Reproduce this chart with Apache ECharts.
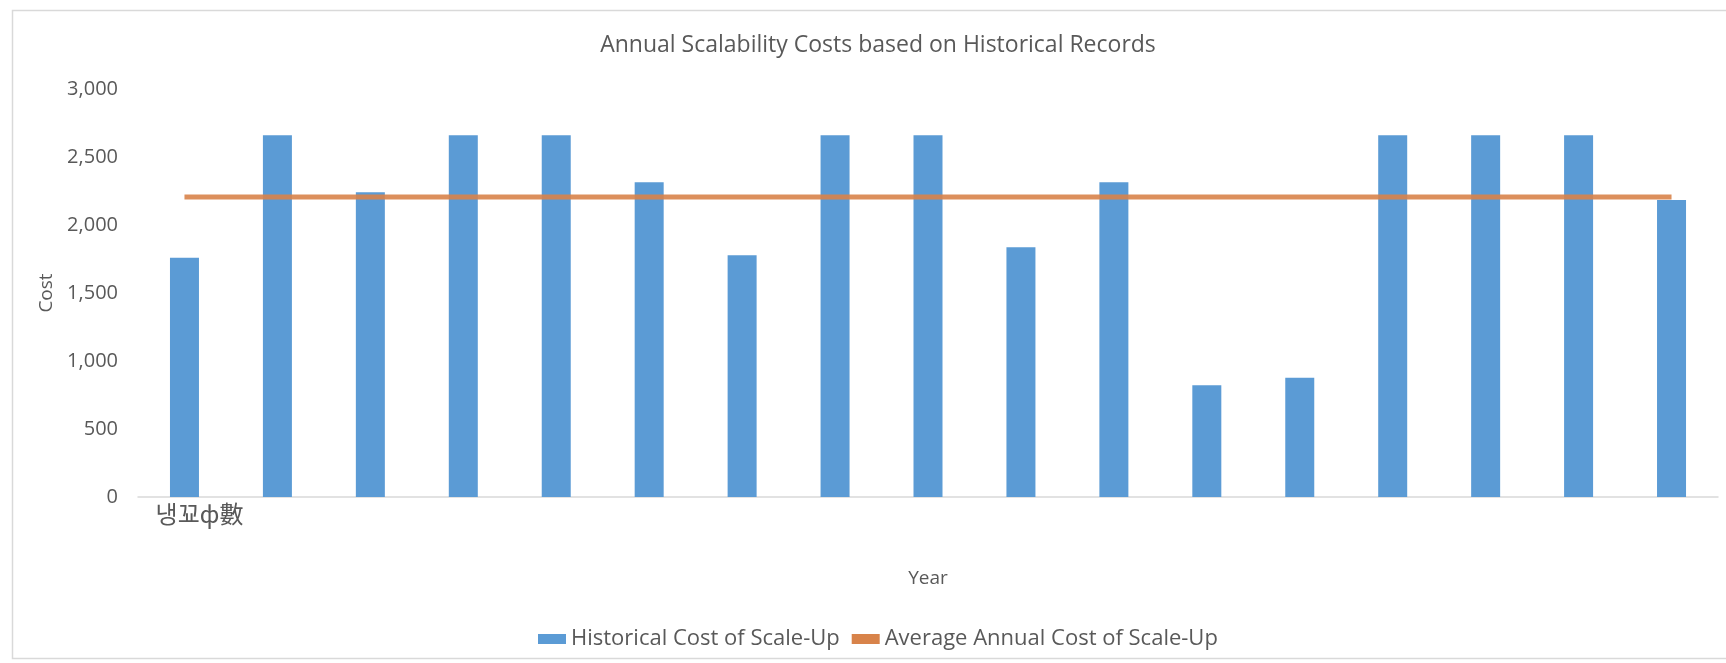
<!DOCTYPE html>
<html>
<head>
<meta charset="utf-8">
<script src="https://cdn.jsdelivr.net/npm/echarts@6/dist/echarts.min.js"></script>
<style>
html,body{margin:0;padding:0;background:#fff;}
#chart{width:1726px;height:663px;}
</style>
</head>
<body>
<div id="chart"></div>
<script>
const categories = ['냉꾜ф數','','','','','','','','','','','','','','','',''];
const historicalCost = [1760,2660,2240,2660,2660,2315,1778,2660,2660,1836,2315,822,877,2660,2660,2660,2184];
const averageCost = [2205,2205,2205,2205,2205,2205,2205,2205,2205,2205,2205,2205,2205,2205,2205,2205,2205];
const yTicks = [0,500,1000,1500,2000,2500,3000];

const FONT = 'Open Sans';
const TXT = '#595959';
const chart = echarts.init(document.getElementById('chart'));
chart.setOption({
  backgroundColor: '#fff',
  animation: false,
  textStyle: { fontFamily: FONT },
  graphic: [{
    type: 'rect', left: 10, top: 8, z: -1,
    shape: { width: 1740, height: 648 },
    style: { fill: 'none', stroke: '#D9D9D9', lineWidth: 1.5 }
  }],
  title: {
    text: 'Annual Scalability Costs based on Historical Records',
    left: 873, top: 29, textAlign: 'center',
    textStyle: { fontFamily: FONT, fontSize: 23, fontWeight: 'normal', color: TXT }
  },
  legend: {
    left: 533, top: 623, itemGap: 12,
    textStyle: { fontFamily: FONT, fontSize: 22, color: TXT },
    data: [
      { name: 'Historical Cost of Scale-Up', icon: 'rect', itemStyle: { color: '#5B9BD5' } },
      { name: 'Average Annual Cost of Scale-Up', icon: 'rect', itemHeight: 4 }
    ],
    itemWidth: 28, itemHeight: 10
  },
  grid: { left: 138, right: 8, top: 89, bottom: 166, containLabel: false },
  xAxis: {
    type: 'category', data: categories,
    name: 'Year', nameLocation: 'middle', nameGap: 72,
    nameTextStyle: { fontFamily: FONT, fontSize: 19, color: TXT },
    axisLine: { lineStyle: { color: '#D9D9D9', width: 1.5 } },
    axisTick: { show: false },
    axisLabel: { interval: 0, margin: 5, padding: [0, 0, 0, 30],
      fontFamily: 'Noto Sans CJK KR', fontSize: 24, color: TXT }
  },
  yAxis: {
    type: 'value', min: yTicks[0], max: yTicks[yTicks.length-1], interval: 500,
    name: 'Cost', nameLocation: 'middle', nameGap: 80, nameRotate: 90,
    nameTextStyle: { fontFamily: FONT, fontSize: 19, color: TXT },
    axisLine: { show: false }, axisTick: { show: false },
    splitLine: { show: false },
    axisLabel: { margin: 20, fontFamily: FONT, fontSize: 20, color: TXT,
      formatter: v => v.toLocaleString('en-US') }
  },
  series: [
    { name: 'Historical Cost of Scale-Up', type: 'bar', data: historicalCost,
      barWidth: 29, itemStyle: { color: '#5B9BD5' } },
    { name: 'Average Annual Cost of Scale-Up', type: 'line', data: averageCost,
      symbol: 'none', z: 3,
      lineStyle: { color: '#D8834A', width: 5, opacity: 0.9 },
      itemStyle: { color: '#D8834A' } }
  ]
});
</script>
</body>
</html>
